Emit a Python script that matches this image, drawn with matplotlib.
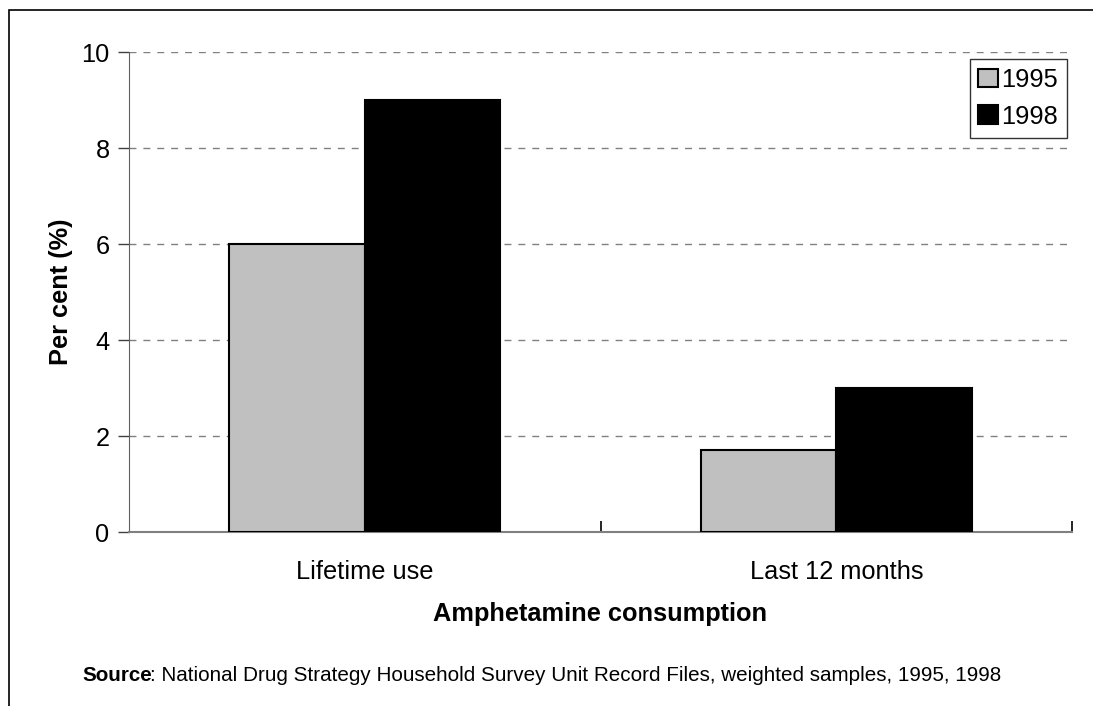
import matplotlib
matplotlib.use("Agg")
import matplotlib.pyplot as plt
import numpy as np
from matplotlib.patches import Rectangle
from matplotlib.text import Annotation

plt.rcParams['font.family'] = ['Liberation Sans', 'DejaVu Sans']

categories = ["Lifetime use", "Last 12 months"]
series_names = ["1995", "1998"]
values_1995 = [6.0, 1.7]
values_1998 = [9.0, 3.0]
yticks = [0, 2, 4, 6, 8, 10]

W, H = 1093, 706
FS = 18.3
fig = plt.figure(figsize=(W / 100, H / 100), dpi=100)
ax = fig.add_axes([129 / W, 1 - 532 / H, (1072 - 129) / W, (532 - 52) / H])

x = np.arange(len(categories))
bw = 0.287
ax.bar(x - bw / 2, values_1995, bw, color="#c0c0c0", edgecolor="black", linewidth=1.5,
       label=series_names[0], zorder=3)
ax.bar(x + bw / 2, values_1998, bw, color="black", edgecolor="black", linewidth=1.5,
       label=series_names[1], zorder=3)

ax.set_xlim(-0.5, 1.5)
ax.set_ylim(0, 10)
ax.set_yticks(yticks)
ax.set_yticklabels([str(t) for t in yticks], fontsize=FS)
ax.set_xticks(x)
ax.set_xticklabels(categories, fontsize=FS)
ax.tick_params(axis='x', length=0, pad=20)
ax.tick_params(axis='y', direction='out', length=8, width=1, color='#404040', pad=6)
ax.set_xticks([0.5, 1.5], minor=True)
ax.tick_params(axis='x', which='minor', direction='in', length=8, width=1.2, color='black')

ax.yaxis.grid(True, linestyle=(0, (5, 5)), color='#808080', linewidth=1, zorder=0)
ax.set_axisbelow(True)
for s in ['top', 'right']:
    ax.spines[s].set_visible(False)
ax.spines['left'].set_color('#606060')
ax.spines['bottom'].set_color('#808080')
ax.spines['bottom'].set_linewidth(1.5)

ax.set_ylabel("Per cent (%)", fontsize=FS, fontweight='bold', labelpad=6)
ax.set_xlabel("Amphetamine consumption", fontsize=FS, fontweight='bold', labelpad=13)

leg = ax.legend(loc='upper right', bbox_to_anchor=(1067 / W, 1 - 59 / H),
                bbox_transform=fig.transFigure, fontsize=FS, frameon=True,
                fancybox=False, edgecolor='black', handlelength=0.75, handleheight=0.75,
                handletextpad=0.15, borderpad=0.35, labelspacing=0.5, borderaxespad=0)
leg.get_frame().set_linewidth(1)

SFS = 14.9
t1 = fig.text(82 / W, 1 - 685 / H, "Source", fontsize=SFS, fontweight='bold',
              ha='left', va='bottom')
fig.add_artist(Annotation(
    ": National Drug Strategy Household Survey Unit Record Files, weighted samples, 1995, 1998",
    xy=(1, 0), xycoords=t1, xytext=(-1.5, 0), textcoords='offset points',
    fontsize=SFS, ha='left', va='bottom'))

fig.add_artist(Rectangle((8.5 / W, -0.1), 1.2, 1 - 10 / H + 0.1, transform=fig.transFigure,
                         fill=False, edgecolor='black', linewidth=1.2))

fig.savefig("out.png", dpi=100)
